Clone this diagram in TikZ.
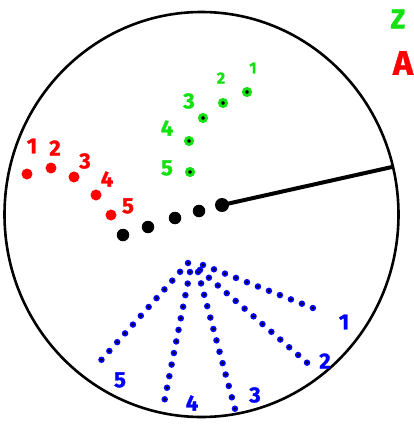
\documentclass[tikz,border=0pt]{standalone}
\usepackage{fontspec}
\newfontfamily\handfont[BoldFeatures={FakeBold=1.2}]{Fira Sans}
\definecolor{hgreen}{RGB}{20,225,20}
\definecolor{hblue}{RGB}{0,0,255}
\definecolor{hred}{RGB}{255,0,0}
\begin{document}
\begin{tikzpicture}[x=1pt,y=-1pt,
  lab/.style={font=\handfont\bfseries\fontsize{22}{22}\selectfont, inner sep=0pt},
  redlab/.style={lab, text=hred},
  greenlab/.style={lab, text=hgreen},
  bluelab/.style={lab, text=hblue},
  reddot/.style={circle, fill=hred, minimum size=11pt, inner sep=0pt},
  blackdot/.style={circle, fill=black, minimum size=12.5pt, inner sep=0pt},
  greendot/.style={circle, fill=black, draw=hgreen, line width=3pt, minimum size=7pt, inner sep=0pt},
  bluedots/.style={hblue, line width=6.5pt, line cap=round, dash pattern=on 0pt off 11.8pt},
  blackcore/.style={black, line width=3pt, line cap=round, dash pattern=on 0pt off 11.8pt}]
\useasboundingbox (0,0) rectangle (414,428);
% outer circle
\draw[line width=2.6pt] (201.5,214.5) ellipse [x radius=197, y radius=202.5];
% black dots and hand
\node[blackdot] (k1) at (123,235) {};
\node[blackdot] (k2) at (148,227) {};
\node[blackdot] (k3) at (175,218) {};
\node[blackdot] (k4) at (199,211) {};
\node[blackdot, minimum size=14pt] (k5) at (222,205) {};
\coordinate (rim) at (392,167);
\draw[line width=4pt] (k5.center) -- (rim);
% red dots and labels
\node[reddot] (r1) at (27,174) {};
\node[reddot] (r2) at (51,168) {};
\node[reddot] (r3) at (74,177) {};
\node[reddot] (r4) at (96,195) {};
\node[reddot] (r5) at (111,215) {};
\node[redlab] (rl1) at (32,146) {1};
\node[redlab] (rl2) at (55,148) {2};
\node[redlab] (rl3) at (85,161) {3};
\node[redlab] (rl4) at (107,179) {4};
\node[redlab] (rl5) at (128,206) {5};
% green dots and labels
\node[greendot] (g1) at (247,92) {};
\node[greendot] (g2) at (223,103) {};
\node[greendot] (g3) at (203,118) {};
\node[greendot] (g4) at (189,141) {};
\node[greendot] (g5) at (190,172) {};
\node[greenlab, font=\handfont\bfseries\fontsize{16}{16}\selectfont] (gl1) at (253,68) {1};
\node[greenlab, font=\handfont\bfseries\fontsize{16}{16}\selectfont] (gl2) at (221,78) {2};
\node[greenlab] (gl3) at (189,101) {3};
\node[greenlab] (gl4) at (167,128) {4};
\node[greenlab] (gl5) at (167,168) {5};
% legend
\node[greenlab, font=\handfont\bfseries\fontsize{27}{27}\selectfont] (zz) at (398,19) {Z};
\node[redlab, font=\handfont\bfseries\fontsize{34}{34}\selectfont] (aa) at (403,63) {A};
% blue dotted rays
\coordinate (s1) at (203,265);
\coordinate (s2) at (200,270);
\coordinate (s3) at (198,272);
\coordinate (s4) at (190,272);
\coordinate (s5) at (188,263);
\coordinate (e1) at (318,310);
\coordinate (e2) at (312,367);
\coordinate (e3) at (235,409);
\coordinate (e4) at (163,408);
\coordinate (e5) at (95,367);
\foreach \i in {1,...,5}{
  \draw[bluedots] (s\i) -- (e\i);
  \draw[blackcore] (s\i) -- (e\i);
}
\node[bluelab] (bl1) at (344,322) {1};
\node[bluelab] (bl2) at (325,361) {2};
\node[bluelab] (bl3) at (255,395) {3};
\node[bluelab] (bl4) at (192,403) {4};
\node[bluelab] (bl5) at (120,380) {5};
\end{tikzpicture}
\end{document}
